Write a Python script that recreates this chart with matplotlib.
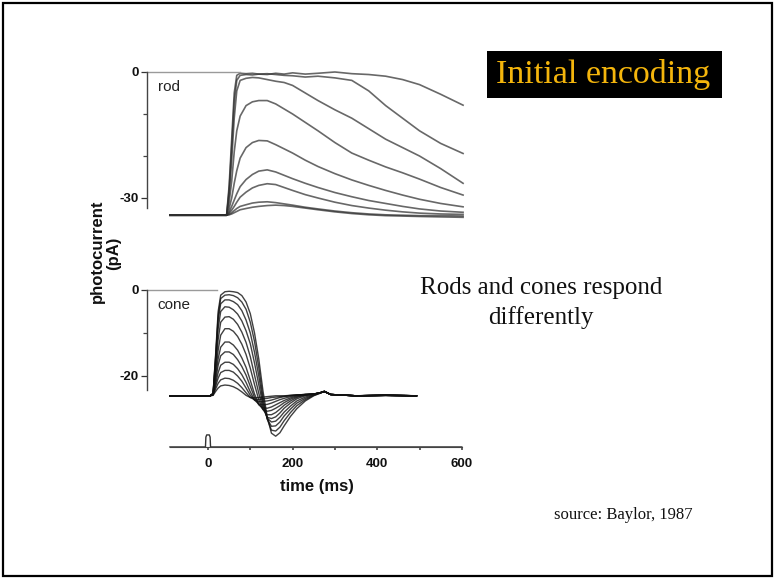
import matplotlib
matplotlib.use("Agg")
import matplotlib.pyplot as plt
from matplotlib.patches import Rectangle

plt.rcParams["axes.unicode_minus"] = False
plt.rcParams["font.family"] = ["Liberation Sans", "DejaVu Sans"]

W, H = 774, 579

# ---- rod responses (pA) ----
rod_time = [-90, 44, 50, 56, 62, 68, 76, 90, 105, 120, 140, 160, 180, 200,
            230, 260, 300, 340, 380, 420, 460, 500, 550, 603]
rod_traces = [
    [-34.1, -34.1, -27.0, -16.0, -5.0, -0.8, -0.3, -0.4, -0.3, -0.5, -0.6, -0.3,
     -0.5, -0.2, -0.5, -0.3, 0.0, -0.4, -0.6, -1.0, -1.8, -3.0, -5.3, -7.9],
    [-34.1, -34.1, -28.0, -18.0, -7.0, -2.0, -0.8, -0.6, -0.7, -0.5, -0.4, -0.6,
     -0.8, -0.9, -1.2, -1.0, -1.4, -2.0, -4.5, -8.0, -11.0, -14.0, -17.0, -19.4],
    [-34.1, -34.1, -29.0, -21.0, -11.0, -4.5, -2.0, -1.5, -1.3, -1.4, -1.8, -2.2,
     -2.5, -3.2, -5.0, -6.8, -9.0, -11.0, -13.5, -16.0, -18.0, -20.0, -23.0, -26.5],
    [-34.1, -34.1, -31.0, -26.0, -19.0, -14.0, -10.5, -8.0, -7.1, -6.8, -6.8, -7.6,
     -8.8, -10.0, -12.0, -14.0, -16.8, -19.3, -21.0, -22.6, -24.0, -25.5, -27.5, -29.3],
    [-34.1, -34.1, -32.5, -30.0, -26.5, -23.5, -20.5, -18.0, -16.8, -16.3, -16.4, -17.3,
     -18.3, -19.3, -21.0, -22.5, -24.2, -25.7, -27.0, -28.2, -29.3, -30.3, -31.3, -32.1],
    [-34.1, -34.1, -33.3, -32.0, -30.5, -29.0, -27.3, -25.6, -24.4, -23.6, -23.3, -23.8,
     -24.6, -25.4, -26.5, -27.5, -28.7, -29.7, -30.6, -31.3, -32.0, -32.6, -33.1, -33.4],
    [-34.1, -34.1, -33.6, -32.9, -32.0, -31.0, -29.8, -28.6, -27.6, -27.0, -26.6, -26.8,
     -27.5, -28.2, -29.2, -30.0, -31.0, -31.8, -32.4, -32.9, -33.3, -33.6, -33.8, -33.9],
    [-34.1, -34.1, -33.9, -33.5, -33.0, -32.5, -32.0, -31.6, -31.2, -31.0, -30.9, -31.1,
     -31.4, -31.7, -32.2, -32.6, -33.1, -33.5, -33.8, -34.0, -34.1, -34.2, -34.2, -34.3],
    [-34.1, -34.1, -34.0, -33.8, -33.5, -33.2, -32.8, -32.5, -32.2, -32.0, -31.8, -31.7,
     -31.8, -32.0, -32.4, -32.8, -33.3, -33.7, -34.0, -34.2, -34.3, -34.4, -34.5, -34.6],
]

# ---- cone responses (pA) ----
cone_time = [-90, 5, 12, 18, 24, 30, 40, 50, 60, 70, 80, 90, 100, 110, 120, 130,
             140, 150, 160, 170, 180, 195, 210, 230, 250, 265, 275, 290, 350, 420, 493]
cone_traces = [
    [-24.6, -24.6, -24.0, -15.0, -5.0, -1.2, -0.4, -0.3, -0.4, -0.6, -1.3, -2.8, -5.5, -10.0, -16.0, -23.5,
     -29.5, -33.3, -34.0, -33.2, -31.6, -29.4, -27.6, -25.8, -24.6, -24.0, -23.5, -24.3, -24.6, -24.4, -24.6],
    [-24.6, -24.6, -24.1, -15.5, -6.0, -2.0, -1.2, -1.1, -1.3, -1.8, -2.8, -4.5, -7.5, -12.0, -18.0, -25.0,
     -30.0, -32.6, -32.8, -31.9, -30.4, -28.5, -26.9, -25.5, -24.5, -24.0, -23.6, -24.3, -24.6, -24.5, -24.6],
    [-24.6, -24.6, -24.1, -16.0, -7.0, -3.2, -2.3, -2.3, -2.7, -3.4, -4.8, -7.0, -10.0, -14.5, -20.0, -26.0,
     -30.0, -31.7, -31.6, -30.7, -29.3, -27.7, -26.3, -25.2, -24.4, -23.9, -23.6, -24.3, -24.6, -24.5, -24.6],
    [-24.6, -24.6, -24.1, -17.0, -9.0, -5.0, -3.9, -4.0, -4.6, -5.6, -7.2, -9.5, -12.5, -17.0, -22.0, -26.8,
     -29.8, -30.7, -30.5, -29.6, -28.4, -27.0, -25.8, -24.9, -24.3, -23.9, -23.6, -24.3, -24.6, -24.5, -24.6],
    [-24.6, -24.6, -24.1, -18.0, -11.5, -7.5, -6.3, -6.2, -6.8, -8.0, -9.8, -12.2, -15.5, -19.8, -24.0, -27.5,
     -29.6, -29.9, -29.5, -28.6, -27.5, -26.3, -25.3, -24.6, -24.2, -23.9, -23.6, -24.3, -24.6, -24.5, -24.6],
    [-24.6, -24.6, -24.2, -19.0, -14.0, -10.5, -9.0, -9.0, -9.6, -10.8, -12.6, -15.0, -18.2, -22.0, -25.5, -27.8,
     -29.0, -29.0, -28.5, -27.7, -26.8, -25.8, -25.0, -24.4, -24.2, -23.9, -23.6, -24.3, -24.6, -24.5, -24.6],
    [-24.6, -24.6, -24.2, -20.0, -16.0, -13.3, -12.1, -12.1, -12.8, -14.0, -15.8, -18.0, -21.0, -24.2, -26.5, -27.8,
     -28.2, -28.0, -27.5, -26.9, -26.2, -25.4, -24.8, -24.4, -24.2, -23.9, -23.6, -24.3, -24.6, -24.5, -24.6],
    [-24.6, -24.6, -24.3, -21.0, -17.5, -15.3, -14.4, -14.4, -15.0, -16.2, -17.8, -19.8, -22.4, -25.0, -26.7, -27.4,
     -27.5, -27.2, -26.7, -26.2, -25.7, -25.1, -24.6, -24.3, -24.2, -23.9, -23.6, -24.3, -24.6, -24.5, -24.6],
    [-24.6, -24.6, -24.3, -21.8, -19.2, -17.5, -16.8, -16.8, -17.3, -18.3, -19.7, -21.5, -23.7, -25.6, -26.5, -26.7,
     -26.6, -26.3, -25.9, -25.5, -25.2, -24.8, -24.5, -24.3, -24.2, -23.9, -23.6, -24.3, -24.6, -24.5, -24.6],
    [-24.6, -24.6, -24.4, -22.4, -20.5, -19.2, -18.7, -18.7, -19.1, -20.0, -21.2, -22.8, -24.5, -25.6, -26.0, -25.9,
     -25.8, -25.6, -25.3, -25.0, -24.8, -24.6, -24.4, -24.3, -24.2, -23.9, -23.6, -24.3, -24.6, -24.5, -24.6],
    [-24.6, -24.6, -24.4, -23.0, -21.7, -20.9, -20.5, -20.6, -21.0, -21.7, -22.7, -23.9, -25.0, -25.5, -25.5, -25.3,
     -25.2, -25.0, -24.9, -24.8, -24.7, -24.5, -24.4, -24.3, -24.2, -23.9, -23.6, -24.3, -24.6, -24.5, -24.6],
    [-24.6, -24.6, -24.5, -23.6, -22.8, -22.3, -22.1, -22.2, -22.5, -23.0, -23.7, -24.5, -25.0, -25.1, -25.0, -24.9,
     -24.8, -24.7, -24.6, -24.6, -24.6, -24.5, -24.4, -24.3, -24.2, -23.9, -23.6, -24.3, -24.6, -24.5, -24.6],
]

# flash monitor trace under the cone panel
stim_time = [-90, -6, -5, -3, 3, 5, 6, 600]
stim_level = [-36.5, -36.5, -34.2, -33.7, -33.7, -34.2, -36.5, -36.5]

rod_ref_span = [-144, 76]
cone_ref_span = [-144, 21]

rod_yticks = [0, -30]
rod_yminor = [-10, -20]
cone_yticks = [0, -20]
cone_yminor = [-10]
time_ticks = [0, 200, 400, 600]
time_minor = [100, 300, 500]


def px_axes(fig, x0, y0, x1, y1):
    return fig.add_axes([x0 / W, 1 - y1 / H, (x1 - x0) / W, (y1 - y0) / H])


def fx(x):
    return x / W


def fy(y):
    return 1 - y / H


fig = plt.figure(figsize=(W / 100, H / 100), dpi=100)
fig.patch.set_facecolor("white")

# slide border
fig.patches.append(Rectangle((fx(3), fy(576)), 769 / W, 573 / H, transform=fig.transFigure,
                             fill=False, edgecolor="black", linewidth=1.6))

# x: t=0 at px 208, 0.423 px/ms ; rod y: 0 at px 72, 4.2 px/pA ; cone y: 0 at px 290, 4.3 px/pA
ax_rod = px_axes(fig, 208 - 150 * 0.423, 72 - 2 * 4.2, 208 + 620 * 0.423, 72 + 36 * 4.2)
ax_cone = px_axes(fig, 208 - 150 * 0.423, 290 - 2 * 4.3, 208 + 620 * 0.423, 290 + 48 * 4.3)
ax_rod.set_ylim(-36, 2)
ax_cone.set_ylim(-48, 2)

for ax in (ax_rod, ax_cone):
    ax.set_xlim(-150, 620)
    ax.patch.set_visible(False)
    for side in ("top", "right"):
        ax.spines[side].set_visible(False)
    ax.spines["left"].set_position(("data", -144))
    ax.spines["left"].set_color("#444444")
    ax.spines["left"].set_linewidth(1.0)
    ax.tick_params(axis="y", which="major", length=4, width=0.9, pad=2,
                   labelsize=9.5, colors="#333333", labelcolor="#111111")
    ax.tick_params(axis="y", which="minor", length=3, width=0.9, colors="#444444")
    for lbl in ax.get_yticklabels():
        lbl.set_fontweight("bold")

for trace in rod_traces:
    ax_rod.plot(rod_time, trace, color="#2e2e2e", linewidth=1.2, alpha=0.72)
ax_rod.plot(rod_ref_span, [0, 0], color="#9a9a9a", linewidth=1.0)
ax_rod.spines["bottom"].set_visible(False)
ax_rod.spines["left"].set_bounds(-32.5, 0)
ax_rod.set_xticks([])
ax_rod.set_yticks(rod_yticks)
ax_rod.set_yticks(rod_yminor, minor=True)
ax_rod.set_yticklabels([str(v) for v in rod_yticks], fontweight="bold")
ax_rod.text(-119, -3.6, "rod", fontsize=11, ha="left", va="center", color="#222222")

for trace in cone_traces:
    ax_cone.plot(cone_time, trace, color="#111111", linewidth=1.0, alpha=0.8)
ax_cone.plot(cone_ref_span, [0, 0], color="#9a9a9a", linewidth=1.0)
ax_cone.plot(stim_time, stim_level, color="#333333", linewidth=1.0)
ax_cone.spines["left"].set_bounds(-23.3, 0)
ax_cone.spines["bottom"].set_position(("data", -36.5))
ax_cone.spines["bottom"].set_bounds(-90, 600)
ax_cone.spines["bottom"].set_color("#444444")
ax_cone.set_yticks(cone_yticks)
ax_cone.set_yticks(cone_yminor, minor=True)
ax_cone.set_yticklabels([str(v) for v in cone_yticks], fontweight="bold")
ax_cone.set_xticks(time_ticks)
ax_cone.set_xticks(time_minor, minor=True)
ax_cone.set_xticklabels([str(v) for v in time_ticks], fontweight="bold")
ax_cone.tick_params(axis="x", which="both", direction="out", length=2, width=1.2,
                    pad=6, labelsize=9.5, colors="#444444", labelcolor="#111111")
ax_cone.text(-119, -3.5, "cone", fontsize=11, ha="left", va="center", color="#222222")
ax_cone.text(258, -45.8, "time (ms)", fontsize=12, fontweight="bold", ha="center", va="center",
             color="#111111")

fig.text(fx(97), fy(251), "photocurrent", rotation=90, fontsize=12, fontweight="bold",
         ha="center", va="center", color="#111111")
fig.text(fx(114), fy(253), "(pA)", rotation=90, fontsize=12, fontweight="bold",
         ha="center", va="center", color="#111111")

# slide texts
fig.patches.append(Rectangle((fx(487), fy(98)), (722 - 487) / W, (98 - 51) / H,
                             transform=fig.transFigure, facecolor="black", edgecolor="none"))
fig.text(fx(603), fy(75), "Initial encoding", fontsize=24.5, family="Liberation Serif",
         color="#f4b50c", ha="center", va="center")
fig.text(fx(541), fy(303), "Rods and cones respond\ndifferently", fontsize=18,
         family="Liberation Serif", color="#111111", ha="center", va="center", linespacing=1.35)
fig.text(fx(623), fy(515), "source: Baylor, 1987", fontsize=12, family="Liberation Serif",
         color="#111111", ha="center", va="center")

fig.savefig("out.png", dpi=100, facecolor="white")
